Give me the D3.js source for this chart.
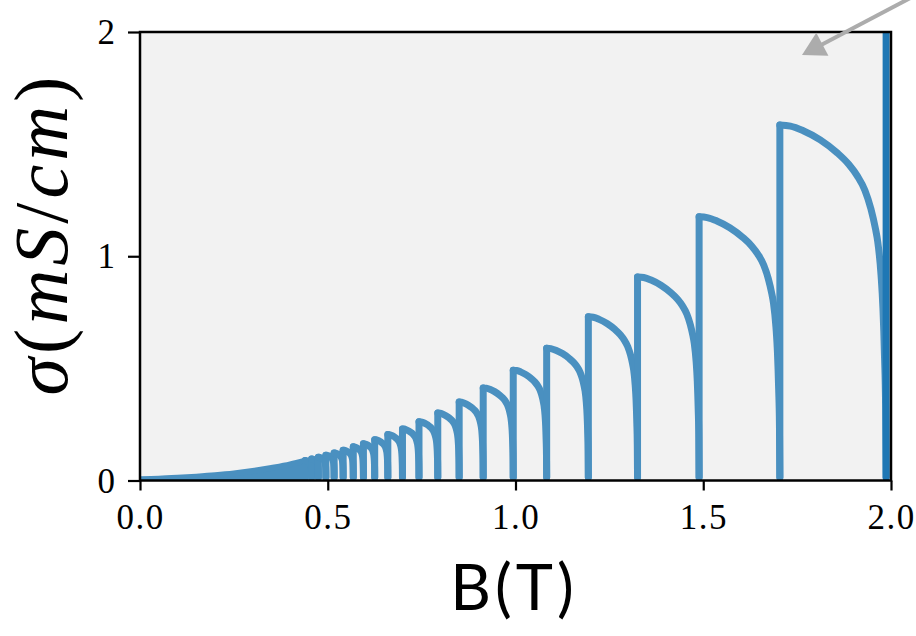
<!DOCTYPE html>
<html>
<head>
<meta charset="utf-8">
<script src="https://cdn.jsdelivr.net/npm/d3@7"></script>
<style>
  html, body { margin: 0; padding: 0; background: #ffffff; }
  svg { display: block; }
</style>
</head>
<body>
<svg id="chart" width="916" height="636"></svg>
<script>
// ---------------- data ----------------
// Field values (T) where each Landau-level step jumps up
const jumpB = [0.440, 0.457, 0.475, 0.495, 0.517, 0.541, 0.568, 0.595, 0.625, 0.660,
               0.699, 0.743, 0.793, 0.850, 0.914, 0.994, 1.083, 1.194, 1.325, 1.489,
               1.704, 1.987];
// Conductivity at the top of each jump (mS/cm); the last one is off-scale
const peakSigma = [0.089, 0.096, 0.104, 0.113, 0.123, 0.135, 0.150, 0.164, 0.182, 0.205,
                   0.230, 0.262, 0.301, 0.350, 0.413, 0.492, 0.590, 0.730, 0.908, 1.176,
                   1.585, 3.0];
// Minimum reached at the bottom of each tooth (mS/cm)
const toothMin = 0.015;
// Low-field region where oscillations are unresolved (envelope)
const envB     = [0.00, 0.05, 0.10, 0.15, 0.20, 0.25, 0.30, 0.35, 0.40, 0.44];
const envSigma = [0.006, 0.008, 0.012, 0.017, 0.023, 0.031, 0.042, 0.056, 0.072, 0.089];
// Normalised shape of one tooth (fraction of tooth width -> fraction of peak height)
const profileT   = [0, 0.10, 0.22, 0.38, 0.54, 0.65, 0.73, 0.80, 0.857, 0.90, 0.921, 0.952, 0.970, 0.985, 0.995, 1];
const profileRel = [1, 0.997, 0.984, 0.958, 0.921, 0.888, 0.855, 0.815, 0.762, 0.705, 0.669, 0.575, 0.480, 0.340, 0.200, 0];
// Axis ticks
const xTicks = [0.0, 0.5, 1.0, 1.5, 2.0];
const yTicks = [0, 1, 2];
const xTickLabels = ["0.0", "0.5", "1.0", "1.5", "2.0"];
const yTickLabels = ["0", "1", "2"];

// ---------------- layout ----------------
const plot = { left: 140, right: 891, top: 32, bottom: 480.5 };
const lineColor = "#4a90c0";
const darkColor = "#1f77b4";
const lw = 7;

const svg = d3.select("#chart");
const x = d3.scaleLinear().domain([0, 2]).range([plot.left, plot.right]);
const y = d3.scaleLinear().domain([0, 2]).range([plot.bottom, plot.top]);

svg.append("rect")
  .attr("x", plot.left).attr("y", plot.top)
  .attr("width", plot.right - plot.left).attr("height", plot.bottom - plot.top)
  .attr("fill", "#f2f2f2");

svg.append("clipPath").attr("id", "clip")
  .append("rect")
  .attr("x", plot.left).attr("y", plot.top)
  .attr("width", plot.right - plot.left).attr("height", plot.bottom - plot.top);

const g = svg.append("g").attr("clip-path", "url(#clip)");

// Low-field filled envelope
const envPts = envB.map((b, i) => [b, envSigma[i]]);
g.append("path")
  .datum(envPts)
  .attr("d", d3.area().x(d => x(d[0])).y0(y(0)).y1(d => y(d[1])).curve(d3.curveMonotoneX))
  .attr("fill", lineColor);
g.append("path")
  .datum(envPts)
  .attr("d", d3.line().x(d => x(d[0])).y(d => y(d[1])).curve(d3.curveMonotoneX))
  .attr("fill", "none").attr("stroke", lineColor).attr("stroke-width", lw - 1)
  .attr("stroke-linecap", "round").attr("stroke-linejoin", "round");

// Teeth
const vline = d3.line().x(d => x(d[0])).y(d => y(d[1]));
const cline = d3.line().x(d => x(d[0])).y(d => y(d[1])).curve(d3.curveMonotoneX);

for (let i = 0; i < jumpB.length - 1; i++) {
  const s = jumpB[i], e = jumpB[i + 1], p = peakSigma[i];
  const pts = profileT.map((t, k) => [s + t * (e - s), toothMin + (p - toothMin) * profileRel[k]]);
  g.append("path").datum([[s, i === 0 ? 0 : toothMin], [s, p]])
    .attr("d", vline)
    .attr("fill", "none").attr("stroke", lineColor).attr("stroke-width", lw)
    .attr("stroke-linecap", "round");
  g.append("path").datum(pts)
    .attr("d", cline)
    .attr("fill", "none").attr("stroke", lineColor).attr("stroke-width", lw)
    .attr("stroke-linecap", "round").attr("stroke-linejoin", "round");
}
// final off-scale jump
const lastB = jumpB[jumpB.length - 1];
g.append("path").datum([[lastB, toothMin], [lastB, peakSigma[peakSigma.length - 1]]])
  .attr("d", vline)
  .attr("fill", "none").attr("stroke", darkColor).attr("stroke-width", lw)
  .attr("stroke-linecap", "round");

// Frame
svg.append("rect")
  .attr("x", plot.left).attr("y", plot.top)
  .attr("width", plot.right - plot.left).attr("height", plot.bottom - plot.top)
  .attr("fill", "none").attr("stroke", "#000").attr("stroke-width", 2.5);

// Axes
const xAxis = d3.axisBottom(x).tickValues(xTicks)
  .tickFormat((d, i) => xTickLabels[i]).tickSize(10).tickPadding(14);
const yAxis = d3.axisLeft(y).tickValues(yTicks)
  .tickFormat((d, i) => yTickLabels[i]).tickSize(12).tickPadding(13);

const gx = svg.append("g").attr("transform", `translate(0,${plot.bottom})`).call(xAxis);
const gy = svg.append("g").attr("transform", `translate(${plot.left},0)`).call(yAxis);
[gx, gy].forEach(a => {
  a.select(".domain").remove();
  a.selectAll(".tick line").attr("stroke", "#000").attr("stroke-width", 2.2);
  a.selectAll(".tick text")
    .attr("fill", "#000")
    .style("font-family", "'Liberation Serif', 'DejaVu Serif', serif")
    .style("font-size", "35px");
});
gx.selectAll(".tick text").attr("dy", "0.71em").style("letter-spacing", "1.5px");
gy.selectAll(".tick text").attr("dy", "0.33em");

// Axis labels
svg.append("text")
  .attr("x", 514).attr("y", 610)
  .attr("text-anchor", "middle")
  .style("font-family", "Lato, 'Open Sans', sans-serif")
  .style("font-size", "63px")
  .style("letter-spacing", "4px")
  .attr("fill", "#000")
  .text("B(T)");

const yl = svg.append("text")
  .attr("transform", "translate(67,234) rotate(-90)")
  .attr("text-anchor", "middle")
  .style("font-family", "'Liberation Serif', serif")
  .style("font-size", "76px")
  .style("letter-spacing", "4px")
  .attr("fill", "#000");
const parts = [["σ", true], ["(", false], ["m", true], ["S", true], ["/", false], ["c", true], ["m", true], [")", false]];
parts.forEach(([t, it]) => {
  yl.append("tspan").style("font-style", it ? "italic" : "normal").text(t);
});

// Arrow (top-right, outside/over the frame)
const tip = [802, 55];
const from = [935, -15];
const ang = Math.atan2(tip[1] - from[1], tip[0] - from[0]);
const headLen = 23, headHalf = 13;
const base = [tip[0] - headLen * Math.cos(ang), tip[1] - headLen * Math.sin(ang)];
svg.append("line")
  .attr("x1", from[0]).attr("y1", from[1])
  .attr("x2", base[0] + 2 * Math.cos(ang)).attr("y2", base[1] + 2 * Math.sin(ang))
  .attr("stroke", "#acacac").attr("stroke-width", 4);
const perp = [-Math.sin(ang), Math.cos(ang)];
svg.append("path")
  .attr("d", `M${tip[0]},${tip[1]} L${base[0] + headHalf * perp[0]},${base[1] + headHalf * perp[1]} L${base[0] - headHalf * perp[0]},${base[1] - headHalf * perp[1]} Z`)
  .attr("fill", "#acacac");
</script>
</body>
</html>
